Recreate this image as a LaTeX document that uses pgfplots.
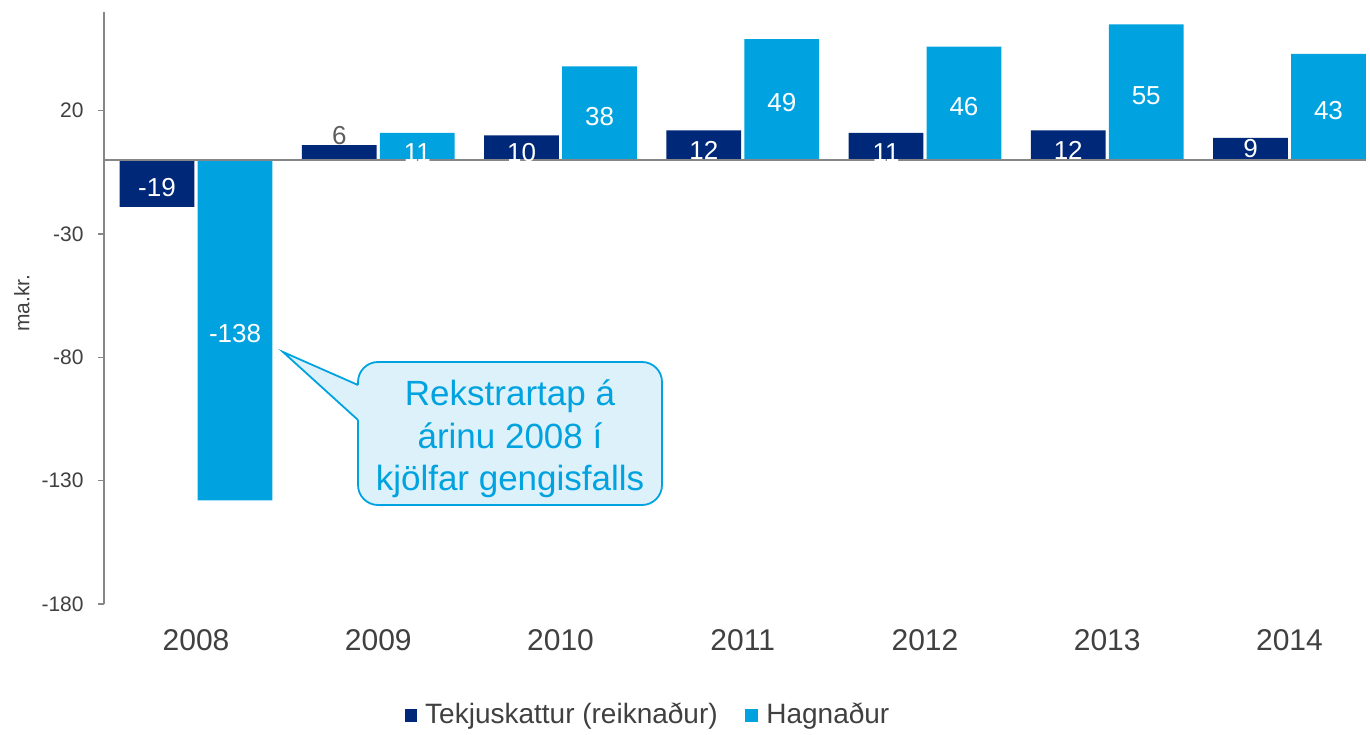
\documentclass[border=0pt]{standalone}
\usepackage{pgfplots}
\pgfplotsset{compat=1.18}
\usepackage{fontspec}
\setmainfont{Liberation Sans}
\definecolor{dblue}{HTML}{002878}
\definecolor{lblue}{HTML}{00A3E0}
\definecolor{txt}{HTML}{404040}
\definecolor{axgray}{HTML}{868686}
\definecolor{callfill}{HTML}{DDF1FA}
\begin{document}
\begin{tikzpicture}
\useasboundingbox (0,0) rectangle (685pt,367pt);
\begin{axis}[
  at={(52pt,65pt)}, anchor=south west,
  scale only axis, width=631pt, height=296pt,
  xmin=-0.505, xmax=6.42, ymin=-180, ymax=60,
  axis y line*=left, axis x line*=bottom,
  x axis line style={draw=none},
  y axis line style={axgray, line width=0.75pt},
  xtick={0,1,2,3,4,5,6},
  xticklabels={2008,2009,2010,2011,2012,2013,2014},
  xtick style={draw=none},
  xticklabel style={font=\fontsize{15pt}{17pt}\selectfont, text=txt, inner sep=0pt, anchor=north, yshift=-9.5pt},
  ytick={-180,-130,-80,-30,20},
  yticklabels={-180,-130,-80,-30,20},
  ytick style={axgray, line width=0.75pt},
  tick align=outside, major tick length=3pt,
  yticklabel style={font=\fontsize{10.5pt}{12pt}\selectfont, text=txt, inner sep=0pt, anchor=east, xshift=-7pt},
  ylabel={ma.kr.},
  every axis y label/.style={at={(axis description cs:-0.065,0.508)}, rotate=90, anchor=center, font=\fontsize{10.5pt}{12pt}\selectfont, text=txt},
  legend style={at={(axis description cs:0.4319,-0.1875)}, anchor=center, draw=none, fill=none, legend columns=2, font=\fontsize{14pt}{17pt}\selectfont, text=txt, /tikz/every even column/.append style={column sep=11.5pt}},
  legend cell align=left,
  clip=false,
]
\addplot[ybar, bar width=0.41, bar shift=-0.214, fill=dblue, draw=none,
  legend image code/.code={\fill[dblue] (0pt,-3.4pt) rectangle (6.2pt,3.2pt); \path (0pt,0pt) (8.2pt,0pt);}]
  coordinates {(0,-19) (1,6) (2,10) (3,12) (4,11) (5,12) (6,9)};
\addlegendentry{Tekjuskattur (reiknaður)}
\addplot[ybar, bar width=0.41, bar shift=0.214, fill=lblue, draw=none,
  legend image code/.code={\fill[lblue] (0pt,-3.4pt) rectangle (6.8pt,3.2pt); \path (0pt,0pt) (8.8pt,0pt);}]
  coordinates {(0,-138) (1,11) (2,38) (3,49) (4,46) (5,55) (6,43)};
\addlegendentry{Hagnaður}
% labels inside bars
\addplot[draw=none, forget plot, nodes near coords, point meta=explicit symbolic,
  nodes near coords style={text=white, anchor=center, inner sep=0pt, font=\fontsize{13pt}{15pt}\selectfont}]
  coordinates {(-0.214,-11) [-19] (1.786,3.0) [10] (2.786,3.9) [12] (3.786,3.0) [11] (4.786,3.9) [12] (5.786,4.5) [9]};
\addplot[draw=none, forget plot, nodes near coords, point meta=explicit symbolic,
  nodes near coords style={text=white, anchor=center, inner sep=0pt, font=\fontsize{13pt}{15pt}\selectfont}]
  coordinates {(0.214,-70.5) [-138] (1.214,3.0) [11] (2.214,17.7) [38] (3.214,23.2) [49] (4.214,21.7) [46] (5.214,26.2) [55] (6.214,20.2) [43]};
\addplot[draw=none, forget plot, nodes near coords, point meta=explicit symbolic,
  nodes near coords style={text=txt!85, anchor=south, inner sep=0pt, font=\fontsize{13pt}{15pt}\selectfont}]
  coordinates {(0.786,6) [6]};
\draw[axgray, line width=1pt] (axis cs:-0.505,0) -- (axis cs:6.42,0);
\end{axis}
% callout
\filldraw[fill=callfill, draw=lblue, line width=0.9pt, rounded corners=10pt] (179pt,114.5pt) rectangle (331pt,186pt);
\fill[callfill] (141.5pt,191pt) -- (179pt,174.5pt) -- (181pt,174.5pt) -- (181pt,157pt) -- (179pt,157pt) -- cycle;
\draw[lblue, line width=0.9pt, line join=miter] (179pt,174.5pt) -- (141.5pt,191pt) -- (179pt,157pt);
\node[text=lblue, align=center, font=\fontsize{17.5pt}{21.2pt}\selectfont] at (255pt,147.5pt) {Rekstrartap á\\árinu 2008 í\\kjölfar gengisfalls};
\end{tikzpicture}
\end{document}
